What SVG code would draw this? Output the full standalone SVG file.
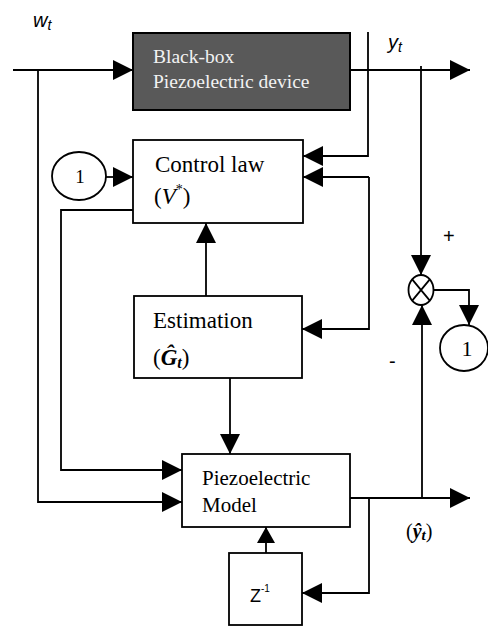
<svg xmlns="http://www.w3.org/2000/svg" width="488" height="627" viewBox="0 0 488 627">
<style>
.box{fill:#fff;stroke:#000;stroke-width:1.8}
.dark{fill:#595959;stroke:#000;stroke-width:2}
.ln{fill:none;stroke:#000;stroke-width:1.8}
.ser{font-family:"Liberation Serif","Times New Roman",serif;fill:#000}
.sans{font-family:"Liberation Sans","Open Sans",Arial,sans-serif;fill:#000}
.lt{fill:#f2f2f2}
</style>
<defs>
<marker id="arr" markerUnits="userSpaceOnUse" markerWidth="20" markerHeight="20" refX="20" refY="10" orient="auto">
<path d="M0,0 L20,10 L0,20 Z" fill="#000"/>
</marker>
<marker id="arrS" markerUnits="userSpaceOnUse" markerWidth="16" markerHeight="18" refX="16" refY="9" orient="auto">
<path d="M0,0 L16,9 L0,18 Z" fill="#000"/>
</marker>
</defs>
<g id="connectors">
<path class="ln" d="M13,70 H133" marker-end="url(#arr)"/>
<path class="ln" d="M38,70 V502 H182" marker-end="url(#arr)"/>
<path class="ln" d="M350,70 H470" marker-end="url(#arr)"/>
<path class="ln" d="M368,32 V156 H303" marker-end="url(#arr)"/>
<path class="ln" d="M369,177 H303" marker-end="url(#arr)"/>
<path class="ln" d="M369,177 V329 H302" marker-end="url(#arr)"/>
<path class="ln" d="M421,66 V275" marker-end="url(#arr)"/>
<path class="ln" d="M433.5,290 H469 V325" marker-end="url(#arr)"/>
<path class="ln" d="M422,498 V305" marker-end="url(#arr)"/>
<path class="ln" d="M106,177 H133" marker-end="url(#arr)"/>
<path class="ln" d="M133,210 H61 V470 H182" marker-end="url(#arr)"/>
<path class="ln" d="M206,296 V223" marker-end="url(#arr)"/>
<path class="ln" d="M230,378 V454" marker-end="url(#arr)"/>
<path class="ln" d="M350,498 H470" marker-end="url(#arr)"/>
<path class="ln" d="M369,498 V593 H302" marker-end="url(#arr)"/>
<path class="ln" d="M266,553 V527" marker-end="url(#arrS)"/>
</g>
<g id="labels">
<text class="sans" x="33" y="27" font-size="20" font-style="italic">w<tspan font-size="14" dy="3">t</tspan></text>
<text class="sans" x="388" y="49" font-size="20" font-style="italic">y<tspan font-size="14" dy="3">t</tspan></text>
<text class="sans" x="443" y="243" font-size="20">+</text>
<text class="sans" x="389" y="368" font-size="20">-</text>
<text class="ser" x="406" y="538" font-size="20">(<tspan font-weight="bold" font-style="italic">ŷ<tspan font-size="15" dy="2">t</tspan></tspan><tspan dy="-2">)</tspan></text>
</g>
<g id="blackbox">
<rect class="dark" x="133" y="33" width="217" height="77"/>
<text class="ser lt" x="153" y="63" font-size="19.5">Black-box</text>
<text class="ser lt" x="153" y="88" font-size="19.5">Piezoelectric device</text>
</g>
<g id="controllaw">
<rect class="box" x="133" y="140" width="170" height="83"/>
<text class="ser" x="155" y="172" font-size="23">Control law</text>
<text class="ser" x="154" y="204" font-size="23">(<tspan font-style="italic">V</tspan><tspan font-size="14" dy="-10">*</tspan><tspan dy="10">)</tspan></text>
</g>
<g id="ref1">
<ellipse class="box" cx="79" cy="176" rx="27" ry="24"/>
<text class="ser" x="80" y="183" font-size="19" text-anchor="middle">1</text>
</g>
<g id="estimation">
<rect class="box" x="134" y="296" width="168" height="82"/>
<text class="ser" x="153" y="328" font-size="23">Estimation</text>
<text class="ser" x="153" y="365" font-size="23">(<tspan font-weight="bold" font-style="italic">Ĝ<tspan font-size="16" dy="3">t</tspan></tspan><tspan dy="-3">)</tspan></text>
</g>
<g id="summer">
<ellipse class="box" cx="421" cy="290" rx="12.5" ry="15"/>
<path class="ln" d="M412.2,279.4 L429.8,300.6 M429.8,279.4 L412.2,300.6"/>
</g>
<g id="ref2">
<ellipse class="box" cx="464" cy="348" rx="24" ry="23"/>
<text class="ser" x="467" y="356" font-size="22" text-anchor="middle">1</text>
</g>
<g id="model">
<rect class="box" x="182" y="454" width="168" height="73"/>
<text class="ser" x="202" y="485" font-size="21">Piezoelectric</text>
<text class="ser" x="202" y="512" font-size="21">Model</text>
</g>
<g id="delay">
<rect class="box" x="229" y="553" width="73" height="72"/>
<text class="sans" x="250" y="602" font-size="18">Z<tspan font-size="10" dy="-10">-1</tspan></text>
</g>
</svg>
